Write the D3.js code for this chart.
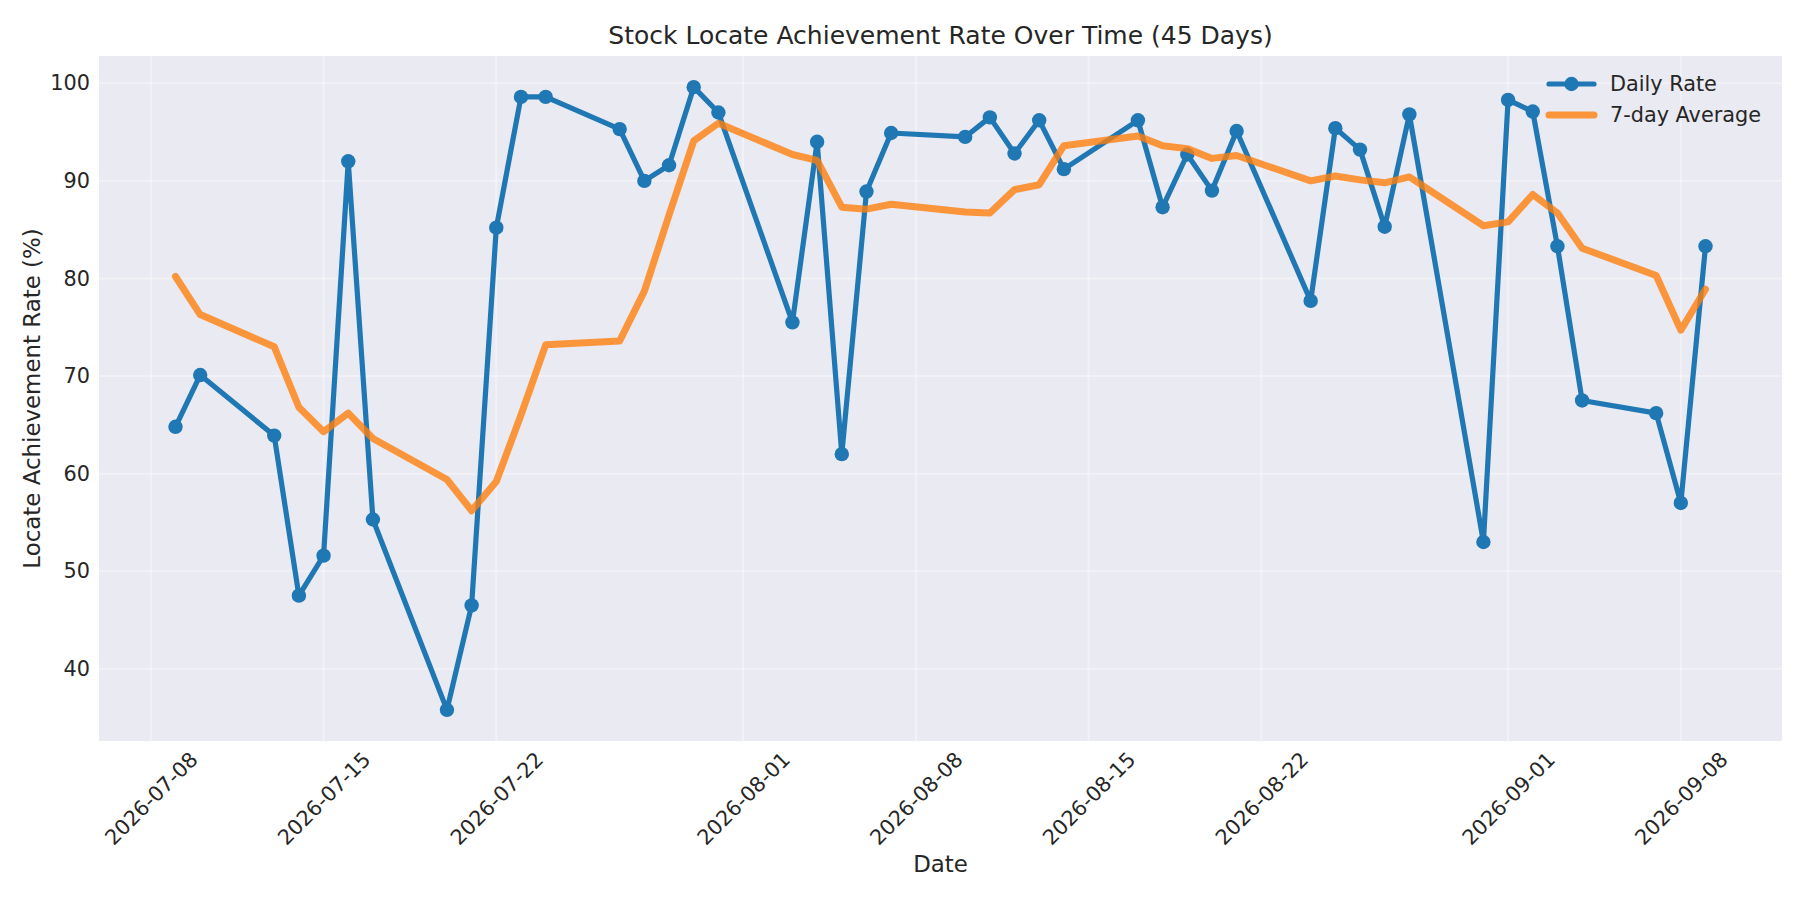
<!DOCTYPE html>
<html>
<head>
<meta charset="utf-8">
<script src="https://cdn.jsdelivr.net/npm/d3@7"></script>
<style>
  html, body { margin: 0; padding: 0; background: #fff; }
  svg { display: block; font-family: "DejaVu Sans", sans-serif; }
</style>
</head>
<body>
<div id="chart"></div>
<script>
// Data (business days only)
const dates = [
  "2026-07-09", "2026-07-10",
  "2026-07-13", "2026-07-14", "2026-07-15", "2026-07-16", "2026-07-17",
  "2026-07-20", "2026-07-21", "2026-07-22", "2026-07-23", "2026-07-24",
  "2026-07-27", "2026-07-28", "2026-07-29", "2026-07-30", "2026-07-31",
  "2026-08-03", "2026-08-04", "2026-08-05", "2026-08-06", "2026-08-07",
  "2026-08-10", "2026-08-11", "2026-08-12", "2026-08-13", "2026-08-14",
  "2026-08-17", "2026-08-18", "2026-08-19", "2026-08-20", "2026-08-21",
  "2026-08-24", "2026-08-25", "2026-08-26", "2026-08-27", "2026-08-28",
  "2026-08-31", "2026-09-01", "2026-09-02", "2026-09-03", "2026-09-04",
  "2026-09-07", "2026-09-08", "2026-09-09"
];
const dailyRate = [
  64.8, 70.1,
  63.9, 47.5, 51.6, 92.0, 55.3,
  35.8, 46.5, 85.2, 98.6, 98.6,
  95.3, 90.0, 91.6, 99.6, 97.0,
  75.5, 94.0, 62.0, 88.9, 94.9,
  94.5, 96.5, 92.8, 96.2, 91.2,
  96.2, 87.3, 92.7, 89.0, 95.1,
  77.7, 95.4, 93.2, 85.3, 96.8,
  53.0, 98.3, 97.1, 83.3, 67.5,
  66.2, 57.0, 83.3
];
const avg7 = [
  80.2, 76.3,
  73.0, 66.8, 64.3, 66.2, 63.6,
  59.4, 56.2, 59.2, 66.0, 73.2,
  73.6, 78.7, 86.5, 94.1, 95.9,
  92.7, 92.1, 87.3, 87.1, 87.6,
  86.8, 86.7, 89.1, 89.6, 93.6,
  94.6, 93.6, 93.3, 92.3, 92.6,
  90.0, 90.5, 90.1, 89.8, 90.4,
  85.4, 85.8, 88.6, 86.7, 83.1,
  80.3, 74.7, 78.9
];
const xTickLabels = ["2026-07-08", "2026-07-15", "2026-07-22", "2026-08-01", "2026-08-08",
                     "2026-08-15", "2026-08-22", "2026-09-01", "2026-09-08"];
const yTickValues = [40, 50, 60, 70, 80, 90, 100];
const seriesNames = ["Daily Rate", "7-day Average"];

// Layout
const W = 1800, H = 900;
const margin = {top: 56, right: 18, bottom: 159, left: 99};
const TEXT = "#262626";
const BLUE = "#1f77b4", ORANGE = "#ff7f0e";
const tickFs = 20.8, labelFs = 22.9, titleFs = 25;

const parse = d3.utcParse("%Y-%m-%d");
const data = dates.map((d, i) => ({date: parse(d), daily: dailyRate[i], avg: avg7[i]}));

const svg = d3.select("#chart").append("svg")
    .attr("width", W)
    .attr("height", H);

// matplotlib style 5% margins
const xExt = d3.extent(data, d => d.date);
const xPad = (xExt[1] - xExt[0]) * 0.05;
const x = d3.scaleUtc()
    .domain([new Date(+xExt[0] - xPad), new Date(+xExt[1] + xPad)])
    .range([margin.left, W - margin.right]);

const allY = dailyRate.concat(avg7);
const yMin = d3.min(allY), yMax = d3.max(allY);
const yPad = (yMax - yMin) * 0.05;
const y = d3.scaleLinear()
    .domain([yMin - yPad, yMax + yPad])
    .range([H - margin.bottom, margin.top]);

// Axes background
svg.append("rect")
    .attr("x", margin.left)
    .attr("y", margin.top)
    .attr("width", W - margin.left - margin.right)
    .attr("height", H - margin.top - margin.bottom)
    .attr("fill", "#eaeaf2");

const xTicks = xTickLabels.map(parse);

// Grid
const grid = svg.append("g").attr("stroke", "#ffffff").attr("stroke-opacity", 0.35).attr("stroke-width", 2);
grid.selectAll("line.gx").data(xTicks).join("line")
    .attr("class", "gx")
    .attr("x1", d => x(d)).attr("x2", d => x(d))
    .attr("y1", margin.top).attr("y2", H - margin.bottom);
grid.selectAll("line.gy").data(yTickValues).join("line")
    .attr("class", "gy")
    .attr("x1", margin.left).attr("x2", W - margin.right)
    .attr("y1", d => y(d)).attr("y2", d => y(d));

// X axis
const xAxis = svg.append("g")
    .attr("transform", `translate(0,${H - margin.bottom})`)
    .call(d3.axisBottom(x).tickValues(xTicks).tickFormat(d3.utcFormat("%Y-%m-%d")).tickSize(0));
xAxis.select(".domain").remove();
xAxis.selectAll("text")
    .attr("font-size", tickFs)
    .attr("font-family", "DejaVu Sans")
    .attr("fill", TEXT)
    .attr("text-anchor", "middle")
    .attr("dy", "0.35em")
    .each(function(d) {
      const L = this.getComputedTextLength();
      const half = (L + 0.5 * tickFs) / (2 * Math.SQRT2);
      d3.select(this).attr("y", 11 + half).attr("x", 0)
        .attr("transform", `rotate(-45,0,${11 + half})`);
    });

// Y axis
const yAxis = svg.append("g")
    .attr("transform", `translate(${margin.left},0)`)
    .call(d3.axisLeft(y).tickValues(yTickValues).tickSize(0).tickPadding(9));
yAxis.select(".domain").remove();
yAxis.selectAll("text")
    .attr("font-size", tickFs)
    .attr("font-family", "DejaVu Sans")
    .attr("fill", TEXT);

// Daily rate line + markers
const lineDaily = d3.line().x(d => x(d.date)).y(d => y(d.daily));
svg.append("path")
    .datum(data)
    .attr("d", lineDaily)
    .attr("fill", "none")
    .attr("stroke", BLUE)
    .attr("stroke-width", 5.2)
    .attr("stroke-linejoin", "round")
    .attr("stroke-linecap", "round");
svg.append("g").selectAll("circle").data(data).join("circle")
    .attr("cx", d => x(d.date))
    .attr("cy", d => y(d.daily))
    .attr("r", 7.2)
    .attr("fill", BLUE);

// 7-day average
const lineAvg = d3.line().x(d => x(d.date)).y(d => y(d.avg));
svg.append("path")
    .datum(data)
    .attr("d", lineAvg)
    .attr("fill", "none")
    .attr("stroke", ORANGE)
    .attr("stroke-opacity", 0.8)
    .attr("stroke-width", 7)
    .attr("stroke-linejoin", "round")
    .attr("stroke-linecap", "round");

// Title and labels
svg.append("text")
    .attr("x", (margin.left + W - margin.right) / 2)
    .attr("y", 43.5)
    .attr("text-anchor", "middle")
    .attr("font-size", titleFs)
    .attr("fill", TEXT)
    .text("Stock Locate Achievement Rate Over Time (45 Days)");

svg.append("text")
    .attr("x", (margin.left + W - margin.right) / 2)
    .attr("y", 872)
    .attr("text-anchor", "middle")
    .attr("font-size", labelFs)
    .attr("fill", TEXT)
    .text("Date");

svg.append("text")
    .attr("transform", `translate(39.5,${(margin.top + H - margin.bottom) / 2}) rotate(-90)`)
    .attr("text-anchor", "middle")
    .attr("font-size", labelFs)
    .attr("fill", TEXT)
    .text("Locate Achievement Rate (%)");

// Legend
const legend = svg.append("g").attr("transform", "translate(1549,84)");
const rowH = 31;
seriesNames.forEach((name, i) => {
  const g = legend.append("g").attr("transform", `translate(0,${i * rowH})`);
  g.append("line")
      .attr("x1", 0).attr("x2", 45).attr("y1", 0).attr("y2", 0)
      .attr("stroke", i === 0 ? BLUE : ORANGE)
      .attr("stroke-opacity", i === 0 ? 1 : 0.8)
      .attr("stroke-width", i === 0 ? 5.2 : 7)
      .attr("stroke-linecap", "round");
  if (i === 0) {
    g.append("circle").attr("cx", 22.5).attr("cy", 0).attr("r", 7.2).attr("fill", BLUE);
  }
  g.append("text")
      .attr("x", 61)
      .attr("y", 0)
      .attr("dy", "0.35em")
      .attr("font-size", tickFs)
      .attr("fill", TEXT)
      .text(name);
});
</script>
</body>
</html>
